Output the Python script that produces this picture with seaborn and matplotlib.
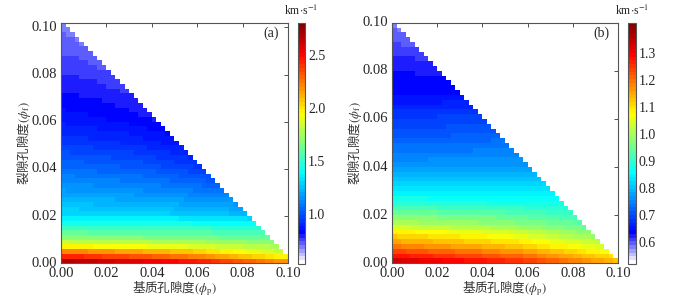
import numpy as np
import matplotlib
matplotlib.use('Agg')
import matplotlib.pyplot as plt
import seaborn as sns
from matplotlib.colors import LinearSegmentedColormap

# ──────────────────────────────────────────────────────────────────────
# Values (km/s). phi values are lower cell edges.
# ──────────────────────────────────────────────────────────────────────
STEP = 0.002

# (a) velocity along the left edge (phi_p = 0)
a_left_phif = [0.000, 0.002, 0.004, 0.006, 0.008, 0.010, 0.012, 0.014, 0.016, 0.018,
               0.020, 0.024, 0.030, 0.040, 0.050, 0.060, 0.068, 0.076, 0.084, 0.092, 0.100]
a_left_v = [2.68, 2.44, 2.23, 1.97, 1.81, 1.69, 1.60, 1.52, 1.45, 1.38,
            1.31, 1.25, 1.17, 1.06, 0.95, 0.87, 0.83, 0.795, 0.76, 0.725, 0.69]
# (a) velocity at the last cell of each row (diagonal edge)
a_edge_phif = [0.000, 0.002, 0.004, 0.006, 0.008, 0.010, 0.014, 0.020, 0.030,
               0.040, 0.050, 0.060, 0.070, 0.080, 0.090, 0.100]
a_edge_v = [2.15, 1.95, 1.83, 1.76, 1.68, 1.60, 1.47, 1.23, 1.07,
            0.95, 0.87, 0.81, 0.78, 0.745, 0.71, 0.69]

# (b) velocity along the left edge
b_left_phif = [0.000, 0.002, 0.004, 0.006, 0.008, 0.010, 0.012, 0.014, 0.016, 0.018,
               0.020, 0.022, 0.024, 0.026, 0.028, 0.032, 0.036, 0.042, 0.048, 0.052,
               0.060, 0.066, 0.072, 0.080, 0.084, 0.088, 0.092, 0.096, 0.098]
b_left_v = [1.33, 1.28, 1.235, 1.19, 1.15, 1.12, 1.085, 1.04, 1.00, 0.975,
            0.945, 0.915, 0.89, 0.87, 0.85, 0.82, 0.79, 0.755, 0.73, 0.71,
            0.685, 0.655, 0.637, 0.631, 0.62, 0.61, 0.60, 0.592, 0.585]
# (b) velocity at the diagonal edge
b_edge_phif = [0.000, 0.002, 0.004, 0.006, 0.008, 0.010, 0.014, 0.020, 0.026,
               0.030, 0.040, 0.050, 0.060, 0.070, 0.080, 0.090, 0.098]
b_edge_v = [1.13, 1.10, 1.07, 1.04, 1.02, 0.99, 0.95, 0.90, 0.855,
            0.83, 0.77, 0.73, 0.69, 0.645, 0.625, 0.60, 0.585]

# share of the left-to-edge drop vs. relative position along a row
row_pos = [0.0, 0.2, 0.4, 0.6, 0.8, 1.0]
row_share = [0.0, 0.15, 0.28, 0.45, 0.72, 1.0]

a_vlim = (0.53, 2.80)
b_vlim = (0.52, 1.41)
a_cticks = [1.0, 1.5, 2.0, 2.5]
b_cticks = [0.6, 0.7, 0.8, 0.9, 1.0, 1.1, 1.2, 1.3]
axis_labels = ['0.00', '0.02', '0.04', '0.06', '0.08', '0.10']
xlabel = r'基质孔隙度$(\phi_\mathrm{p})$'
ylabel = r'裂隙孔隙度$(\phi_\mathrm{f})$'

# jet with the dark-blue end replaced by white, 64 levels
cmap = LinearSegmentedColormap.from_list(
    'wjet', [(0.0, (1, 1, 1)), (0.125, (0, 0, 1)), (0.375, (0, 1, 1)),
             (0.625, (1, 1, 0)), (0.875, (1, 0, 0)), (1.0, (0.5, 0, 0))], N=64)

sns.set_style('white')
plt.rcParams['font.family'] = ['Liberation Serif', 'Noto Sans CJK SC']
plt.rcParams['mathtext.fontset'] = 'stix'


def build_grid(left_phif, left_v, edge_phif, edge_v, n_diag):
    grid = np.full((n_diag + 1, n_diag + 1), np.nan)
    for i in range(n_diag + 1):
        phif = i * STEP
        v0 = np.interp(phif, left_phif, left_v)
        v1 = np.interp(phif, edge_phif, edge_v)
        last = n_diag - i
        for j in range(last + 1):
            s = j / last if last > 0 else 0.0
            grid[i, j] = v0 + (v1 - v0) * np.interp(s, row_pos, row_share)
    return grid


def draw_panel(fig, ax_rect, cax_rect, grid, vlim, cticks, tag, ytop):
    ax = fig.add_axes(ax_rect)
    cax = fig.add_axes(cax_rect)
    sns.heatmap(grid, ax=ax, cbar_ax=cax, cmap=cmap, vmin=vlim[0], vmax=vlim[1],
                linewidths=0, cbar_kws={'ticks': cticks})
    ax.set_xlim(0, 50)
    ax.set_ylim(0, ytop)
    ax.set_xticks(np.arange(0, 51, 10))
    ax.set_xticklabels(axis_labels, rotation=0)
    ax.set_yticks(np.arange(0, 51, 10))
    ax.set_yticklabels(axis_labels, rotation=0)
    ax.tick_params(direction='in', top=True, right=True, bottom=True, left=True,
                   length=3, width=0.6, labelsize=10.5, pad=3, color='#333333')
    for sp in ax.spines.values():
        sp.set_visible(True)
        sp.set_linewidth(0.8)
        sp.set_color('#555555')
    # CJK first so the non-math part of the label finds its glyphs
    ax.set_xlabel(xlabel, fontsize=9, color='#333333', family='Noto Sans CJK SC')
    ax.set_ylabel(ylabel, fontsize=9, color='#333333', family='Noto Sans CJK SC')
    ax.xaxis.label.set_va('center')
    ax.yaxis.label.set_va('center')
    ax.xaxis.set_label_coords(0.5, -0.105)
    ax.yaxis.set_label_coords(-0.165, 0.5)
    ax.text(0.925, 0.955, tag, transform=ax.transAxes, ha='center', va='center',
            fontsize=10)

    cb = ax.collections[0].colorbar
    cb.outline.set_linewidth(0.8)
    cb.outline.set_edgecolor('#555555')
    cb.set_ticks(cticks, labels=[f'{t:.1f}' for t in cticks])
    cax.tick_params(direction='in', length=3, width=0.6, labelsize=10, pad=2)
    cax.text(0.5, 1.02, r'km$\cdot$s$^{-1}$', transform=cax.transAxes,
             ha='center', va='bottom', fontsize=8.5)
    return ax


grid_a = build_grid(a_left_phif, a_left_v, a_edge_phif, a_edge_v, 50)
grid_b = build_grid(b_left_phif, b_left_v, b_edge_phif, b_edge_v, 49)

fig = plt.figure(figsize=(6.79, 3.04), dpi=100)
draw_panel(fig, [0.0898, 0.1339, 0.3343, 0.7914], [0.4384, 0.1316, 0.0112, 0.7938],
           grid_a, a_vlim, a_cticks, '(a)', 51)
draw_panel(fig, [0.5773, 0.1339, 0.3328, 0.7914], [0.9245, 0.1316, 0.0122, 0.7938],
           grid_b, b_vlim, b_cticks, '(b)', 50)

fig.savefig('out.png', dpi=100)
plt.close(fig)
